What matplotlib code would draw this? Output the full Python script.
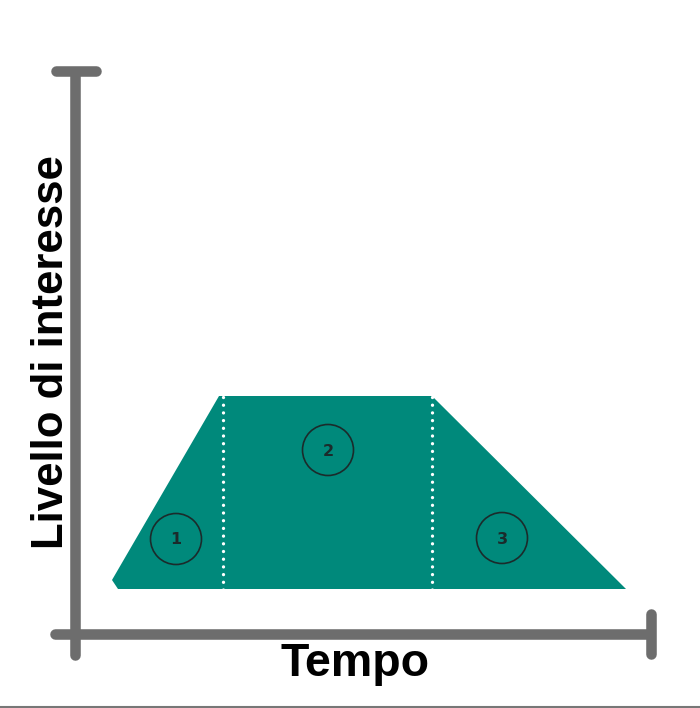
import matplotlib
matplotlib.use("Agg")
import matplotlib.pyplot as plt
from matplotlib.patches import Polygon, Circle

# Data (in canvas units: x = time, y = interest level, y grows downward)
shape_x = [112, 219, 432, 626, 118]
shape_y = [580, 396, 396, 589, 589]
divider_x = [223, 432]
divider_y = [397, 598]
phase_labels = ["1", "2", "3"]
phase_cx = [176, 328, 502]
phase_cy = [539, 450, 538]
x_label = "Tempo"
y_label = "Livello di interesse"

fig = plt.figure(figsize=(7.0, 7.08), dpi=100)
ax = fig.add_axes([0, 0, 1, 1])
ax.set_xlim(0, 700)
ax.set_ylim(708, 0)
ax.axis("off")

teal = "#00897B"
gray = "#6d6d6d"

ax.add_patch(Polygon(list(zip(shape_x, shape_y)), closed=True, facecolor=teal,
                     edgecolor="none", zorder=2))

for dx in divider_x:
    ax.plot([dx, dx], divider_y, color="white", lw=2.4,
            linestyle=(0, (0.01, 2.3)), dash_capstyle="round", zorder=3)

for lab, cx, cy in zip(phase_labels, phase_cx, phase_cy):
    ax.add_patch(Circle((cx, cy), 25.5, facecolor="none", edgecolor="#1b2b2b",
                        lw=1.2, zorder=4))
    ax.text(cx, cy + 1, lab, ha="center", va="center", fontsize=11.5,
            fontweight="bold", color="#1b2b2b", family="DejaVu Sans", zorder=5)

# axes drawn as thick rounded lines
lw_ax = 7.6
kw = dict(color=gray, lw=lw_ax, solid_capstyle="round", zorder=6)
ax.plot([75, 75], [72, 655], **kw)
ax.plot([56, 96], [71, 71], **kw)
ax.plot([55, 650], [634, 634], **kw)
ax.plot([651, 651], [614, 654], **kw)
ax.plot([92, 92], [634, 634], **kw)

ax.text(355, 664, x_label, ha="center", va="center", fontsize=33.5,
        fontweight="bold", family="Liberation Sans", color="black")
ax.text(52, 352, y_label, ha="center", va="center", rotation=90, fontsize=31.5,
        fontweight="bold", family="Liberation Sans", color="black")

ax.plot([0, 700], [706.5, 706.5], color="#777777", lw=1.5, zorder=7)

fig.savefig("out.png", dpi=100)
